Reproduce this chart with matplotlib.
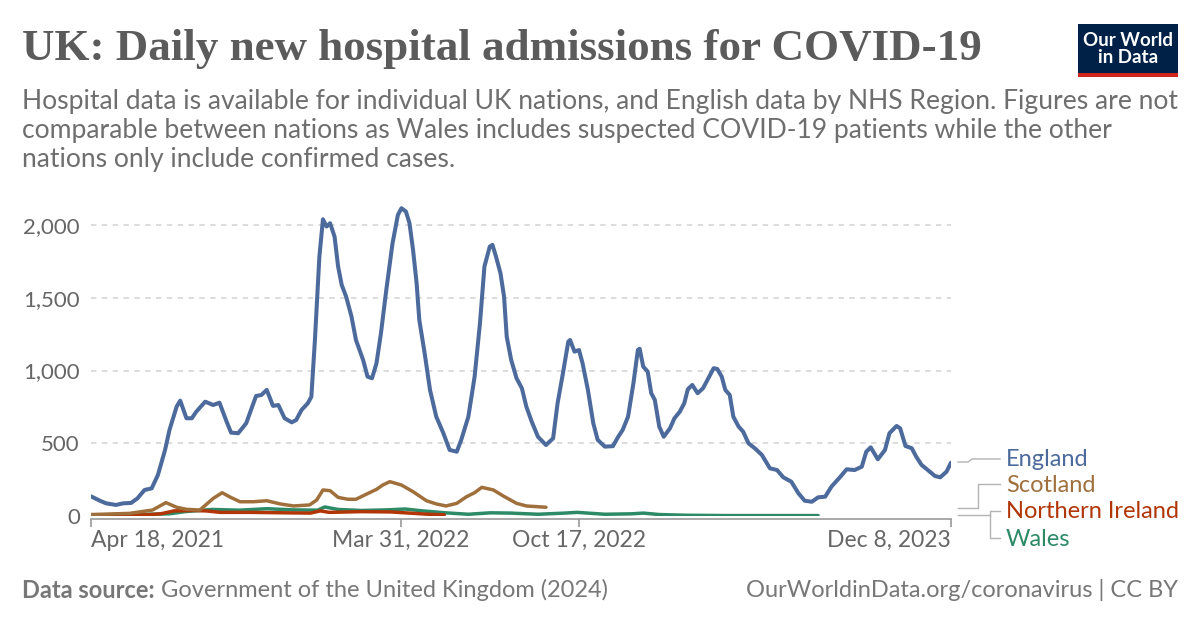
import numpy as np
import pandas as pd
import matplotlib
matplotlib.use('Agg')
import matplotlib.pyplot as plt
from matplotlib.patches import Rectangle

plt.rcParams['font.family'] = ['Lato', 'DejaVu Sans']

# --- data ---
england_dates = ['2021-04-18', '2021-04-28', '2021-05-05', '2021-05-16', '2021-05-24', '2021-06-02',
                 '2021-06-09', '2021-06-17', '2021-06-25', '2021-07-02', '2021-07-10', '2021-07-15',
                 '2021-07-23', '2021-07-27', '2021-08-03', '2021-08-09', '2021-08-14', '2021-08-24',
                 '2021-09-02', '2021-09-09', '2021-09-17', '2021-09-22', '2021-09-30', '2021-10-09',
                 '2021-10-20', '2021-10-26', '2021-11-01', '2021-11-08', '2021-11-14', '2021-11-21',
                 '2021-11-29', '2021-12-04', '2021-12-10', '2021-12-17', '2021-12-21', '2021-12-25',
                 '2021-12-30', '2022-01-03', '2022-01-07', '2022-01-11', '2022-01-16', '2022-01-20',
                 '2022-01-24', '2022-01-29', '2022-02-04', '2022-02-09', '2022-02-17', '2022-02-22',
                 '2022-02-27', '2022-03-04', '2022-03-09', '2022-03-15', '2022-03-22', '2022-03-28',
                 '2022-04-01', '2022-04-06', '2022-04-10', '2022-04-14', '2022-04-18', '2022-04-21',
                 '2022-04-27', '2022-05-03', '2022-05-10', '2022-05-18', '2022-05-25', '2022-06-02',
                 '2022-06-07', '2022-06-15', '2022-06-22', '2022-06-28', '2022-07-03', '2022-07-09',
                 '2022-07-12', '2022-07-16', '2022-07-21', '2022-07-25', '2022-07-28', '2022-08-02',
                 '2022-08-08', '2022-08-14', '2022-08-19', '2022-08-25', '2022-09-01', '2022-09-10',
                 '2022-09-18', '2022-09-23', '2022-09-29', '2022-10-05', '2022-10-07', '2022-10-12',
                 '2022-10-17', '2022-10-21', '2022-10-27', '2022-11-02', '2022-11-07', '2022-11-15',
                 '2022-11-24', '2022-11-30', '2022-12-05', '2022-12-11', '2022-12-17', '2022-12-22',
                 '2022-12-24', '2022-12-28', '2023-01-02', '2023-01-06', '2023-01-10', '2023-01-15',
                 '2023-01-20', '2023-01-27', '2023-02-01', '2023-02-07', '2023-02-12', '2023-02-16',
                 '2023-02-21', '2023-02-27', '2023-03-05', '2023-03-11', '2023-03-17', '2023-03-21',
                 '2023-03-26', '2023-03-30', '2023-04-04', '2023-04-08', '2023-04-14', '2023-04-19',
                 '2023-04-25', '2023-05-02', '2023-05-10', '2023-05-19', '2023-05-27', '2023-06-03',
                 '2023-06-12', '2023-06-20', '2023-06-27', '2023-07-05', '2023-07-12', '2023-07-20',
                 '2023-07-27', '2023-08-06', '2023-08-13', '2023-08-22', '2023-08-30', '2023-09-04',
                 '2023-09-09', '2023-09-17', '2023-09-25', '2023-09-30', '2023-10-08', '2023-10-12',
                 '2023-10-18', '2023-10-25', '2023-10-30', '2023-11-05', '2023-11-12', '2023-11-20',
                 '2023-11-26', '2023-12-03', '2023-12-08']
england = [135, 105, 87, 76, 87, 90,
           121, 179, 190, 282, 454, 592,
           752, 793, 672, 672, 717, 786,
           763, 779, 649, 573, 569, 638,
           825, 832, 867, 757, 763, 672,
           644, 660, 729, 775, 820, 1210,
           1783, 2040, 1990, 2013, 1921, 1715,
           1589, 1508, 1371, 1210, 1073, 958,
           947, 1050, 1256, 1554, 1875, 2070,
           2116, 2093, 2013, 1829, 1600, 1348,
           1119, 867, 683, 569, 454, 442,
           523, 683, 958, 1325, 1715, 1852,
           1864, 1783, 1669, 1508, 1233, 1073,
           947, 878, 752, 649, 545, 488,
           534, 775, 981, 1199, 1210, 1130,
           1141, 1050, 867, 638, 523, 477,
           480, 545, 592, 683, 912, 1141,
           1150, 1027, 993, 844, 798, 614,
           545, 603, 672, 717, 775, 871,
           901, 844, 878, 947, 1016, 1011,
           958, 867, 832, 683, 614, 580,
           500, 466, 420, 328, 316, 266,
           236, 156, 105, 98, 128, 133,
           202, 270, 321, 316, 339, 442,
           472, 390, 454, 569, 619, 603,
           481, 466, 408, 351, 316, 275,
           266, 305, 367]

scotland_dates = ['2021-04-18', '2021-05-31', '2021-06-26', '2021-07-11', '2021-07-23', '2021-08-03',
                  '2021-08-18', '2021-09-02', '2021-09-12', '2021-09-20', '2021-10-02', '2021-10-17',
                  '2021-11-01', '2021-11-16', '2021-12-01', '2021-12-19', '2021-12-27', '2022-01-03',
                  '2022-01-11', '2022-01-20', '2022-01-31', '2022-02-09', '2022-02-21', '2022-03-04',
                  '2022-03-11', '2022-03-19', '2022-04-01', '2022-04-14', '2022-04-29', '2022-05-10',
                  '2022-05-21', '2022-06-02', '2022-06-13', '2022-06-22', '2022-06-30', '2022-07-13',
                  '2022-07-24', '2022-08-08', '2022-08-19', '2022-09-10']
scotland = [10, 18, 41, 92, 60, 46,
            41, 121, 160, 133, 98, 98,
            105, 83, 69, 76, 110, 179,
            174, 128, 115, 115, 151, 183,
            213, 236, 213, 167, 105, 83,
            69, 87, 133, 160, 197, 179,
            138, 87, 69, 60]

ni_dates = ['2021-04-18', '2021-06-20', '2021-07-05', '2021-07-20', '2021-08-10', '2021-08-25',
            '2021-09-10', '2021-10-15', '2021-11-20', '2021-12-20', '2021-12-31', '2022-01-10',
            '2022-02-15', '2022-03-20', '2022-04-10', '2022-05-01', '2022-05-19']
northern_ireland = [5, 8, 15, 35, 38, 35,
                    25, 25, 22, 20, 35, 25,
                    30, 28, 20, 12, 8]

wales_dates = ['2021-04-18', '2021-06-01', '2021-07-15', '2021-08-01', '2021-09-01', '2021-10-01',
               '2021-11-01', '2021-12-01', '2021-12-28', '2022-01-05', '2022-01-20', '2022-02-15',
               '2022-03-15', '2022-04-05', '2022-04-25', '2022-05-20', '2022-06-15', '2022-07-10',
               '2022-08-01', '2022-09-01', '2022-10-01', '2022-10-15', '2022-11-15', '2022-12-15',
               '2022-12-28', '2023-01-15', '2023-02-15', '2023-04-01', '2023-07-12']
wales = [8, 10, 15, 30, 45, 40,
         50, 42, 40, 62, 45, 38,
         42, 48, 35, 22, 12, 22,
         20, 12, 20, 25, 12, 15,
         20, 10, 5, 3, 3]

countries = ['England', 'Scotland', 'Northern Ireland', 'Wales']
colours = ['#4C6A9C', '#A0703C', '#B13507', '#2D8A67']
tick_dates = ['2021-04-18', '2022-03-31', '2022-10-17', '2023-12-08']
tick_labels = ['Apr 18, 2021', 'Mar 31, 2022', 'Oct 17, 2022', 'Dec 8, 2023']
y_ticks = [0, 500, 1000, 1500, 2000]

# --- figure ---
W, H = 1200, 628
fig = plt.figure(figsize=(W / 100, H / 100), dpi=100)
ax = fig.add_axes([91 / W, 1 - 516 / H, 860 / W, (516 - 196) / H])

series = [(england_dates, england), (scotland_dates, scotland),
          (ni_dates, northern_ireland), (wales_dates, wales)]
# Wales first so the others sit on top
for i in [3, 2, 1, 0]:
    d, v = series[i]
    ax.plot(pd.to_datetime(d), v, color=colours[i], lw=2.9 if i == 0 else 2.5,
            solid_joinstyle='round', solid_capstyle='round', zorder=3 + (3 - i))

ax.set_xlim(pd.Timestamp('2021-04-18'), pd.Timestamp('2023-12-08'))
ax.set_ylim(0, 2200)

for s in ['top', 'right', 'left']:
    ax.spines[s].set_visible(False)
ax.spines['bottom'].set_color('#999999')
ax.spines['bottom'].set_linewidth(1.2)
ax.spines['bottom'].set_position(('outward', 2))

ax.set_yticks(y_ticks)
ax.set_yticklabels(['0', '500', '1,000', '1,500', '2,000'])
ax.tick_params(axis='y', length=0, labelsize=16, labelcolor='#666666', pad=8)
for yv in y_ticks[1:]:
    ax.axhline(yv, color='#d9d9d9', lw=1.3, ls=(0, (3, 3)), zorder=1)

ax.set_xticks(pd.to_datetime(tick_dates))
ax.set_xticklabels(tick_labels)
ax.tick_params(axis='x', length=6, width=1.2, color='#999999', labelsize=16.5,
               labelcolor='#666666', pad=2)
xl = ax.get_xticklabels()
xl[0].set_ha('left')
xl[-1].set_ha('right')

# labels on the right with connector lines
def fx(p):
    return p / W

def fy(p):
    return 1 - p / H

label_y = [460, 486, 512, 539]
for i, name in enumerate(countries):
    fig.text(fx(1006), fy(label_y[i]), name, color=colours[i], fontsize=17,
             va='center', ha='left')
con = dict(color='#b3b3b3', lw=1, transform=fig.transFigure, clip_on=False)
fig.add_artist(plt.Line2D([fx(958), fx(968), fx(972), fx(1000)],
                          [fy(462), fy(462), fy(459), fy(459)], **con))
fig.add_artist(plt.Line2D([fx(958), fx(978), fx(978), fx(1000)],
                          [fy(508), fy(508), fy(484), fy(484)], **con))
fig.add_artist(plt.Line2D([fx(958), fx(990)], [fy(515), fy(515)], **con))
fig.add_artist(plt.Line2D([fx(990), fx(990), fx(1000)], [fy(515), fy(511), fy(511)], **con))
fig.add_artist(plt.Line2D([fx(990), fx(990), fx(1000)], [fy(515), fy(538), fy(538)], **con))

# title and subtitle
title = fig.text(fx(22), fy(49), 'UK: Daily new hospital admissions for COVID-19',
                 fontsize=30, color='#5b5b5b', family=['Liberation Serif', 'DejaVu Serif'],
                 fontweight='bold', va='center', ha='left')
fig.canvas.draw()
tw = title.get_window_extent(fig.canvas.get_renderer()).width
title.set_fontsize(30 * 958 / tw)

subtitle = ('Hospital data is available for individual UK nations, and English data by NHS Region. Figures are not\n'
            'comparable between nations as Wales includes suspected COVID-19 patients while the other\n'
            'nations only include confirmed cases.')
sub = fig.text(fx(22), fy(89), subtitle, fontsize=19, color='#6e6e6e', va='top', ha='left',
               linespacing=1.2)
fig.canvas.draw()
sw = sub.get_window_extent(fig.canvas.get_renderer()).width
sub.set_fontsize(19 * 1158 / sw)

# logo
fig.add_artist(Rectangle((fx(1078), fy(77)), 100 / W, 53 / H, transform=fig.transFigure,
                         facecolor='#002147', edgecolor='none'))
fig.add_artist(Rectangle((fx(1078), fy(77)), 100 / W, 4 / H, transform=fig.transFigure,
                         facecolor='#ce261e', edgecolor='none'))
fig.text(fx(1128), fy(49), 'Our World\nin Data', color='white', fontsize=13.5,
         ha='center', va='center', linespacing=1.0, fontweight='bold')

# footer
src = fig.text(fx(22), fy(590), 'Data source:', fontsize=17, color='#777777',
               fontweight='bold', va='center', ha='left')
fig.canvas.draw()
bb = src.get_window_extent(fig.canvas.get_renderer())
fig.text((bb.x1 + 6) / W, fy(590), 'Government of the United Kingdom (2024)', fontsize=17,
         color='#777777', va='center', ha='left')
fig.text(fx(1178), fy(590), 'OurWorldinData.org/coronavirus | CC BY', fontsize=17,
         color='#777777', va='center', ha='right')

fig.savefig('out.png', dpi=100, facecolor='white')
